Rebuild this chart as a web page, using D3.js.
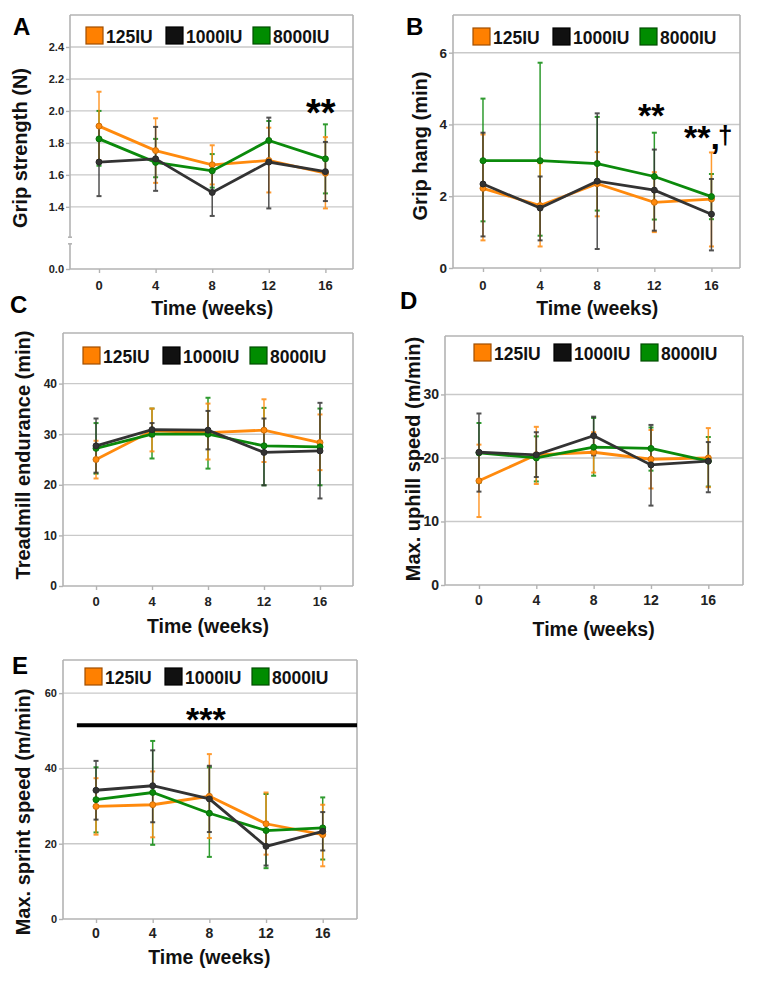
<!DOCTYPE html>
<html>
<head>
<meta charset="utf-8">
<script src="https://cdn.jsdelivr.net/npm/d3@7"></script>
<style>
  body { margin: 0; background: #fff; }
  svg { display: block; font-family: "Liberation Sans", Arial, sans-serif; font-weight: bold; }
</style>
</head>
<body>
<div id="svg-container"></div>
<script>
////////////////////////////////////////////////////////////////////
////////////////////////////  Data  ////////////////////////////////
const weeks = [0, 4, 8, 12, 16];
const groups = ["125IU", "1000IU", "8000IU"];
const groupColors = ["#ff8a0d", "#333333", "#0b8a0b"];
const legendFill = ["#ff8000", "#111111", "#008c00"];
const legendStroke = ["#a04e00", "#000000", "#004d00"];

// rows: 125IU, 1000IU, 8000IU
const gripStrengthMean = [
  [1.905, 1.752, 1.663, 1.69, 1.61],
  [1.68, 1.70, 1.49, 1.68, 1.62],
  [1.825, 1.678, 1.625, 1.815, 1.70],
];
const gripStrengthHigh = [
  [2.12, 1.954, 1.785, 1.895, 1.836],
  [1.905, 1.90, 1.635, 1.958, 1.806],
  [2.0, 1.825, 1.73, 1.937, 1.916],
];
const gripStrengthLow = [
  [1.69, 1.55, 1.54, 1.49, 1.39],
  [1.467, 1.50, 1.343, 1.39, 1.436],
  [1.657, 1.585, 1.52, 1.69, 1.484],
];

const gripHangMean = [
  [2.22, 1.74, 2.35, 1.83, 1.92],
  [2.34, 1.67, 2.42, 2.17, 1.50],
  [2.99, 2.99, 2.91, 2.55, 1.99],
];
const gripHangHigh = [
  [3.72, 2.92, 3.23, 2.67, 3.22],
  [3.77, 2.55, 4.31, 3.30, 2.48],
  [4.72, 5.72, 4.21, 3.77, 2.62],
];
const gripHangLow = [
  [0.77, 0.60, 1.44, 1.00, 0.60],
  [0.88, 0.77, 0.53, 1.04, 0.49],
  [1.30, 0.90, 1.60, 1.35, 1.36],
];

const treadmillMean = [
  [25.0, 30.66, 30.3, 30.8, 28.35],
  [27.7, 30.9, 30.8, 26.4, 26.7],
  [27.2, 30.0, 30.0, 27.7, 27.5],
];
const treadmillHigh = [
  [28.7, 35.07, 36.05, 36.9, 33.9],
  [33.1, 32.2, 34.6, 33.1, 36.2],
  [32.2, 35.07, 37.2, 35.2, 35.07],
];
const treadmillLow = [
  [21.25, 26.6, 25.0, 24.5, 22.9],
  [22.4, 29.6, 27.0, 19.9, 17.3],
  [22.2, 25.2, 23.2, 19.9, 19.9],
];

const uphillMean = [
  [16.4, 20.5, 20.9, 19.8, 20.0],
  [20.9, 20.5, 23.5, 18.9, 19.5],
  [20.8, 20.0, 21.7, 21.5, 19.5],
];
const uphillHigh = [
  [22.1, 24.9, 24.05, 24.4, 24.7],
  [27.0, 24.05, 26.5, 25.2, 22.5],
  [25.5, 23.4, 26.3, 24.8, 23.3],
];
const uphillLow = [
  [10.7, 15.9, 17.7, 15.2, 15.4],
  [14.7, 17.0, 20.4, 12.5, 14.6],
  [16.1, 16.3, 17.2, 18.0, 15.5],
];

const sprintMean = [
  [29.9, 30.35, 32.6, 25.3, 22.4],
  [34.2, 35.4, 31.9, 19.3, 23.3],
  [31.7, 33.6, 28.1, 23.5, 24.2],
];
const sprintHigh = [
  [37.4, 39.2, 43.8, 33.6, 30.35],
  [42.0, 44.8, 40.7, 23.9, 28.4],
  [40.3, 47.3, 40.3, 33.2, 32.3],
];
const sprintLow = [
  [22.4, 21.7, 21.5, 17.1, 14.0],
  [26.4, 25.7, 23.1, 14.2, 18.2],
  [23.0, 19.7, 16.5, 13.5, 15.8],
];

const gripStrengthTicks = [0, 1.4, 1.6, 1.8, 2.0, 2.2, 2.4];
const gripHangTicks = [0, 2, 4, 6];
const treadmillTicks = [0, 10, 20, 30, 40];
const uphillTicks = [0, 10, 20, 30];
const sprintTicks = [0, 20, 40, 60];

////////////////////////////////////////////////////////////////////
////////////////////////////  Layout  //////////////////////////////
const panels = [
  {
    letter: "A", letterPos: [13, 35],
    mean: gripStrengthMean, high: gripStrengthHigh, low: gripStrengthLow,
    ticks: gripStrengthTicks, fmt: d3.format(".1f"),
    yDomain: [0, 1.2, 2.6], broken: [1.0, 1.21],
    xDomain: [-2.05, 17.95],
    frame: { x0: 70, x1: 353, y0: 15, y1: 269 },
    yLabel: "Grip strength (N)", yLabelPos: [20, 148],
    xLabelY: 315, yTickSize: 11, xTickSize: 13, xTickY: 290,
    legend: [86, 27],
    notes: [{ text: "**", x: 306, y: 126, size: 38 }],
  },
  {
    letter: "B", letterPos: [406, 35],
    mean: gripHangMean, high: gripHangHigh, low: gripHangLow,
    ticks: gripHangTicks, fmt: d3.format("d"),
    yDomain: [0, 7.05], xDomain: [-2.1, 18],
    frame: { x0: 453, x1: 740, y0: 15, y1: 268 },
    yLabel: "Grip hang (min)", yLabelPos: [420, 146],
    xLabelY: 315, yTickSize: 13.5, xTickSize: 13, xTickY: 290,
    legend: [473, 28],
    notes: [
      { text: "**", x: 638, y: 127, size: 34 },
      { text: "**,", x: 684, y: 149, size: 34 },
      { text: "†", x: 718, y: 144, size: 26 },
    ],
  },
  {
    letter: "C", letterPos: [10, 313],
    mean: treadmillMean, high: treadmillHigh, low: treadmillLow,
    ticks: treadmillTicks, fmt: d3.format("d"),
    yDomain: [0, 50], xDomain: [-2.36, 18.36],
    frame: { x0: 63, x1: 353, y0: 333, y1: 586 },
    yLabel: "Treadmill endurance (min)", yLabelPos: [23, 455],
    xLabelY: 633, yTickSize: 12, xTickSize: 13, xTickY: 606,
    legend: [83, 347],
    notes: [],
  },
  {
    letter: "D", letterPos: [400, 309],
    mean: uphillMean, high: uphillHigh, low: uphillLow,
    ticks: uphillTicks, fmt: d3.format("d"),
    yDomain: [0, 39.2], xDomain: [-2.37, 18.42],
    frame: { x0: 445, x1: 743, y0: 336, y1: 585 },
    yLabel: "Max. uphill speed (m/min)", yLabelPos: [413, 459],
    xLabelY: 636, yTickSize: 14, xTickSize: 14, xTickY: 605,
    legend: [474, 344],
    notes: [],
  },
  {
    letter: "E", letterPos: [12, 674],
    mean: sprintMean, high: sprintHigh, low: sprintLow,
    ticks: sprintTicks, fmt: d3.format("d"),
    yDomain: [0, 68.8], xDomain: [-2.33, 18.42],
    frame: { x0: 63, x1: 357, y0: 660, y1: 919 },
    yLabel: "Max. sprint speed (m/min)", yLabelPos: [23, 812],
    xLabelY: 964, yTickSize: 11, xTickSize: 14, xTickY: 938,
    legend: [85, 668],
    notes: [{ text: "***", x: 186, y: 731, size: 34 }],
    sigBar: { from: -1.35, to: 18.42, value: 51.5 },
  },
];

const legendOffsets = [0, 80, 167];

////////////////////////////////////////////////////////////////////
////////////////////////////  Draw  ////////////////////////////////
const width = 757, height = 982;
const svg = d3.select("#svg-container").append("svg")
  .attr("width", width).attr("height", height);

panels.forEach((p) => {
  const g = svg.append("g");
  const f = p.frame;

  const x = d3.scaleLinear().domain(p.xDomain).range([f.x0, f.x1]);
  const y = d3.scaleLinear().domain(p.yDomain)
    .range(p.yDomain.length === 3 ? [f.y1, f.y1 - 30.2, f.y0] : [f.y1, f.y0]);

  // gridlines
  g.selectAll(".grid")
    .data(p.ticks.filter((t) => t !== 0))
    .enter().append("line")
    .attr("x1", f.x0).attr("x2", f.x1)
    .attr("y1", (d) => y(d)).attr("y2", (d) => y(d))
    .attr("stroke", "#c9c9c9").attr("stroke-width", 1.4);

  // frame
  const frameColor = "#b3b3b3";
  const frameLines = [
    [f.x0, f.y0, f.x1, f.y0],
    [f.x1, f.y0, f.x1, f.y1],
    [f.x0, f.y1, f.x1, f.y1],
  ];
  if (p.broken) {
    const yb0 = y(p.broken[1]), yb1 = y(p.broken[0]);
    frameLines.push([f.x0, f.y0, f.x0, yb0], [f.x0, yb1, f.x0, f.y1]);
    frameLines.push([f.x0 - 2, yb0, f.x0 + 2, yb0], [f.x0 - 2, yb1, f.x0 + 2, yb1]);
  } else {
    frameLines.push([f.x0, f.y0, f.x0, f.y1]);
  }
  g.selectAll(".frame").data(frameLines).enter().append("line")
    .attr("x1", (d) => d[0]).attr("y1", (d) => d[1])
    .attr("x2", (d) => d[2]).attr("y2", (d) => d[3])
    .attr("stroke", frameColor).attr("stroke-width", 1.6);

  // y axis
  const yAxis = g.append("g")
    .attr("transform", `translate(${f.x0},0)`)
    .call(d3.axisLeft(y).tickValues(p.ticks).tickFormat(p.fmt).tickSize(4).tickPadding(2));
  yAxis.select(".domain").remove();
  yAxis.selectAll(".tick line").attr("stroke", frameColor).attr("stroke-width", 1.4);
  yAxis.selectAll(".tick text")
    .attr("fill", "#222").style("font-size", p.yTickSize + "px")
    .style("font-weight", "bold").style("font-family", "Liberation Sans, Arial, sans-serif");

  // x axis
  const xAxis = g.append("g")
    .attr("transform", `translate(0,${f.y1})`)
    .call(d3.axisBottom(x).tickValues(weeks).tickFormat(d3.format("d")).tickSize(4).tickPadding(2));
  xAxis.select(".domain").remove();
  xAxis.selectAll(".tick line").attr("stroke", frameColor).attr("stroke-width", 1.4);
  xAxis.selectAll(".tick text").remove();
  g.selectAll(".xlab").data(weeks).enter().append("text")
    .attr("x", (d) => x(d)).attr("y", p.xTickY)
    .attr("text-anchor", "middle")
    .attr("fill", "#222").style("font-size", p.xTickSize + "px")
    .text((d) => d);

  // significance bar
  if (p.sigBar) {
    g.append("line")
      .attr("x1", x(p.sigBar.from)).attr("x2", x(p.sigBar.to))
      .attr("y1", y(p.sigBar.value)).attr("y2", y(p.sigBar.value))
      .attr("stroke", "#000").attr("stroke-width", 4);
  }

  // error bars
  const drawOrder = [2, 0, 1];
  drawOrder.forEach((gi) => {
    const color = groupColors[gi];
    const eb = g.append("g").attr("stroke", color).attr("opacity", 0.85);
    weeks.forEach((w, i) => {
      const cx = x(w);
      eb.append("line")
        .attr("x1", cx).attr("x2", cx)
        .attr("y1", y(p.low[gi][i])).attr("y2", y(p.high[gi][i]))
        .attr("stroke-width", 1.5);
      [p.low[gi][i], p.high[gi][i]].forEach((v) => {
        eb.append("line")
          .attr("x1", cx - 2.5).attr("x2", cx + 2.5)
          .attr("y1", y(v)).attr("y2", y(v))
          .attr("stroke-width", 2);
      });
    });
  });

  // lines and points
  const line = d3.line().x((d, i) => x(weeks[i])).y((d) => y(d));
  [0, 2, 1].forEach((gi) => {
    g.append("path")
      .datum(p.mean[gi])
      .attr("d", line)
      .attr("fill", "none")
      .attr("stroke", groupColors[gi])
      .attr("stroke-width", 2.8);
    g.selectAll(".pt" + gi)
      .data(p.mean[gi]).enter().append("circle")
      .attr("cx", (d, i) => x(weeks[i])).attr("cy", (d) => y(d))
      .attr("r", 3)
      .attr("fill", groupColors[gi])
      .attr("stroke", d3.color(groupColors[gi]).darker(0.6))
      .attr("stroke-width", 1);
  });

  // legend
  const lg = g.append("g").attr("transform", `translate(${p.legend[0]},${p.legend[1]})`);
  groups.forEach((name, gi) => {
    const ox = legendOffsets[gi];
    lg.append("rect")
      .attr("x", ox).attr("y", 0).attr("width", 17).attr("height", 17)
      .attr("fill", legendFill[gi]).attr("stroke", legendStroke[gi]).attr("stroke-width", 1.2);
    lg.append("text")
      .attr("x", ox + 20).attr("y", 15.5)
      .attr("fill", "#111").style("font-size", "17.5px")
      .text(name);
  });

  // annotations
  p.notes.forEach((n) => {
    g.append("text")
      .attr("x", n.x).attr("y", n.y)
      .attr("fill", "#000").style("font-size", n.size + "px")
      .text(n.text);
  });

  // titles
  g.append("text")
    .attr("x", (x(0) + x(16)) / 2).attr("y", p.xLabelY)
    .attr("text-anchor", "middle").attr("fill", "#111")
    .style("font-size", "19.5px")
    .text("Time (weeks)");
  g.append("text")
    .attr("transform", `translate(${p.yLabelPos[0]},${p.yLabelPos[1]}) rotate(-90)`)
    .attr("text-anchor", "middle").attr("dominant-baseline", "central")
    .attr("fill", "#111").style("font-size", "20px")
    .text(p.yLabel);
  g.append("text")
    .attr("x", p.letterPos[0]).attr("y", p.letterPos[1])
    .attr("fill", "#000").style("font-size", "24px")
    .text(p.letter);
});
</script>
</body>
</html>
